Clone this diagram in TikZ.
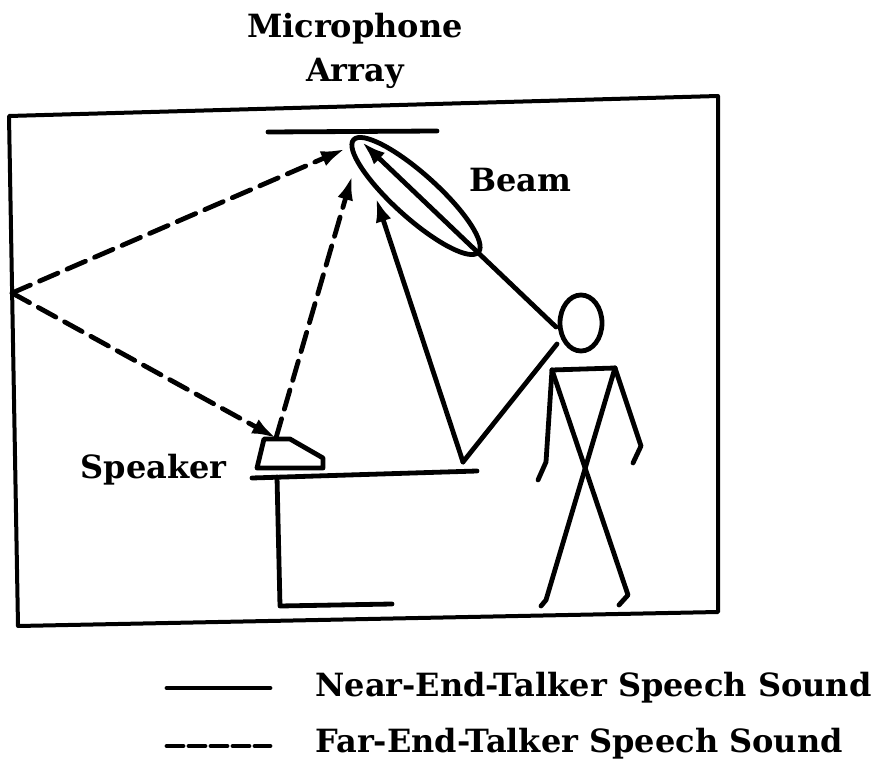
\documentclass[tikz,border=0pt]{standalone}
\usepackage{fontspec}
\setmainfont{DejaVu Serif}
\usetikzlibrary{arrows.meta,shapes.geometric}

\begin{document}
\begin{tikzpicture}[x=0.5pt, y=-0.5pt, line width=2.4pt, line cap=round, line join=round,
    sound/.style={-{Latex[length=12pt,width=8pt]}},
    echo/.style={sound, dash pattern=on 10pt off 5pt},
    lbl/.style={font=\fontsize{16}{19}\selectfont\bfseries, align=center, inner sep=0pt}]
  \useasboundingbox (0, 0) rectangle (874, 781);%
  % room
  \draw[line width=2pt] (9, 116) -- (718, 96) -- (718, 612) -- (18, 626) -- cycle;%
  % microphone array and beam
  \coordinate (micL) at (268, 132);%
  \coordinate (micR) at (437, 131);%
  \draw (micL) -- (micR);%
  \coordinate (beam) at (416, 196);%
  \draw[rotate around={-42:(beam)}] (beam) ellipse (84 and 22);%
  \node[lbl] (beamlbl) at (520, 180) {Beam};%
  \node[lbl] (miclbl) at (355, 51) {Microphone\\[3pt]Array};%
  % table
  \coordinate (tabL) at (252, 478);%
  \coordinate (tabR) at (477, 471);%
  \coordinate (legT) at (277, 477);%
  \coordinate (legB) at (280, 606);%
  \coordinate (foot) at (392, 604);%
  \draw (tabL) -- (tabR);%
  \draw (legT) -- (legB) -- (foot);%
  % loudspeaker on the table
  \draw (264, 439) -- (290, 439) -- (323, 458) -- (323, 468) -- (257, 468) -- cycle;%
  \coordinate (spk) at (276, 438);%
  \node[lbl, anchor=east] (spklbl) at (229, 470) {Speaker};%
  % talker
  \node[draw, ellipse, minimum width=21pt, minimum height=28pt, inner sep=0pt,
        line width=2.4pt] (head) at (581, 323) {};%
  \coordinate (shL) at (552, 370);%
  \coordinate (shR) at (615, 368);%
  \draw (shL) -- (shR);%
  \draw (shL) -- (546, 462) -- (538, 480);%
  \draw (shR) -- (641, 446) -- (633, 463);%
  \draw (shL) -- (628, 595) -- (619, 605);%
  \draw (shR) -- (546, 600) -- (541, 606);%
  % near-end paths
  \coordinate (mouth) at (556, 327);%
  \coordinate (hand) at (557, 344);%
  \coordinate (bounce) at (463, 462);%
  \draw[sound] (mouth) -- (362, 142);%
  \draw (hand) -- (bounce);%
  \draw[sound] (bounce) -- (376, 198);%
  % far-end paths
  \coordinate (wall) at (12, 293);%
  \draw[echo] (wall) -- (345, 149);%
  \draw[echo] (wall) -- (spk);%
  \draw[echo] (spk) -- (352, 176);%
  % legend
  \coordinate (nearA) at (167, 688);%
  \coordinate (nearB) at (270, 688);%
  \coordinate (farA) at (167, 746);%
  \coordinate (farB) at (270, 746);%
  \draw (nearA) -- (nearB);%
  \draw[dash pattern=on 8pt off 3pt] (farA) -- (farB);%
  \node[lbl, anchor=west] (nearlbl) at (313, 688) {Near-End-Talker Speech Sound};%
  \node[lbl, anchor=west] (farlbl) at (313, 744) {Far-End-Talker Speech Sound};%
\end{tikzpicture}
\end{document}
